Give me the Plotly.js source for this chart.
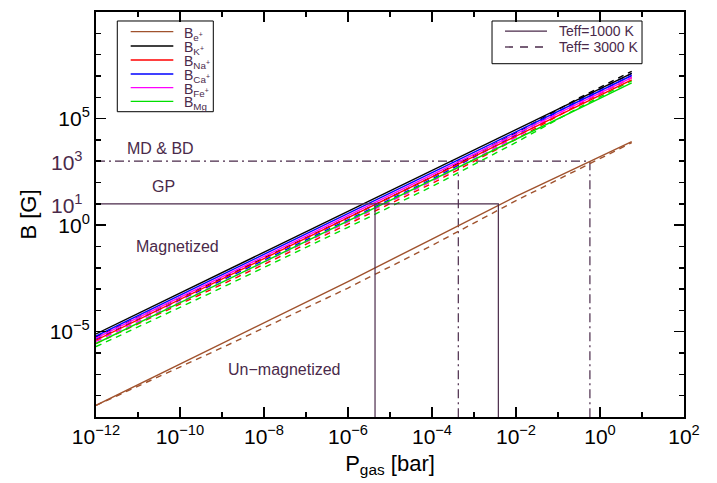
<!DOCTYPE html>
<html><head><meta charset="utf-8">
<script src="https://cdn.plot.ly/plotly-3.0.1.min.js"></script>
<style>body{margin:0;background:#fff}#chart{width:717px;height:483px}</style>
</head><body><div id="chart"></div>
<script>
// Gas pressure samples [bar]
const P = [1e-12, 1e-9, 1e-6, 1e-4, 1e-2, 0.316, 5.69];

// Teff = 1000 K (solid)
const B_e_1000  = [3.5e-9, 2.8e-6, 2.24e-3, 0.224, 22.4, 562, 8300];
const B_K_1000  = [7.9e-6, 5.9e-3, 4.47, 363, 3.02e4, 8.32e5, 1.32e7];
const B_Na_1000 = [4.0e-6, 2.95e-3, 2.24, 182, 1.51e4, 4.17e5, 6.6e6];
const B_Ca_1000 = [6.3e-6, 4.7e-3, 3.55, 288, 2.4e4, 6.6e5, 1.05e7];
const B_Fe_1000 = [5.0e-6, 3.7e-3, 2.82, 229, 1.9e4, 5.25e5, 8.3e6];
const B_Mg_1000 = [2.8e-6, 2.1e-3, 1.58, 129, 1.07e4, 2.95e5, 4.7e6];

// Teff = 3000 K (dashed)
const B_e_3000  = [3.5e-9, 1.78e-6, 1.12e-3, 0.112, 14.1, 447, 7400];
const B_K_3000  = [5.6e-6, 3.3e-3, 2.24, 182, 2.14e4, 9.3e5, 1.66e7];
const B_Na_3000 = [2.8e-6, 1.66e-3, 1.12, 91, 1.07e4, 4.7e5, 8.3e6];
const B_Ca_3000 = [4.5e-6, 2.6e-3, 1.78, 145, 1.7e4, 7.4e5, 1.32e7];
const B_Fe_3000 = [3.5e-6, 2.1e-3, 1.41, 115, 1.35e4, 5.9e5, 1.05e7];
const B_Mg_3000 = [2.0e-6, 1.17e-3, 0.79, 65, 7.6e3, 3.3e5, 5.9e6];

// Reference field levels and the pressures where they are reached
const GP_P = [1e-12, 3.8e-3, 3.8e-3, null, 4.4e-6, 4.4e-6];
const GP_B = [10, 10, 1e-9, null, 10, 1e-9];
const MD_P = [1e-12, 0.575, 0.575, null, 4.23e-4, 4.23e-4];
const MD_B = [1000, 1000, 1e-9, null, 1000, 1e-9];

const xTickVals = [1e-12, 1e-10, 1e-8, 1e-6, 1e-4, 1e-2, 1, 1e2];
const xTickText = ["10<sup>−12</sup>","10<sup>−10</sup>","10<sup>−8</sup>","10<sup>−6</sup>","10<sup>−4</sup>","10<sup>−2</sup>","10<sup>0</sup>","10<sup>2</sup>"];
const xMinor = [1e-11, 1e-9, 1e-7, 1e-5, 1e-3, 1e-1, 1e1];
const yTickVals = [1e-5, 1, 1e5, 1e10];
const yTickText = ["10<sup>−5</sup>","10<sup>0</sup>","10<sup>5</sup>","10<sup>10</sup>"];
const yMinor = [1e-9,1e-8,1e-7,1e-6,1e-4,1e-3,1e-2,1e-1,1e1,1e2,1e3,1e4,1e6,1e7,1e8,1e9];

const ionNames = ["B<sub>e<sup>+</sup></sub>","B<sub>K<sup>+</sup></sub>","B<sub>Na<sup>+</sup></sub>","B<sub>Ca<sup>+</sup></sub>","B<sub>Fe<sup>+</sup></sub>","B<sub>Mg</sub>"];
const ionColors = ["#A0522D","#000000","#FF0000","#0000FF","#FF00FF","#00E000"];
const solid = [B_e_1000, B_K_1000, B_Na_1000, B_Ca_1000, B_Fe_1000, B_Mg_1000];
const dashed = [B_e_3000, B_K_3000, B_Na_3000, B_Ca_3000, B_Fe_3000, B_Mg_3000];

const purple = "#4a2a4a";
const font = "Liberation Sans, Arial, Helvetica, sans-serif";

const traces = [];
traces.push({x: GP_P, y: GP_B, xaxis: "x2", yaxis: "y2", mode: "lines", line: {color: purple, width: 1.2}, showlegend: false, hoverinfo: "skip"});
traces.push({x: MD_P, y: MD_B, mode: "lines", line: {color: purple, width: 1.2, dash: "9px,4px,2px,4px"}, showlegend: false, hoverinfo: "skip"});
const order = [5, 2, 4, 3, 1, 0];
order.forEach(i => {
  traces.push({x: P, y: dashed[i], mode: "lines", line: {color: ionColors[i], width: 1.4, dash: "6px,5px"}, showlegend: false, name: ionNames[i]});
});
order.forEach(i => {
  traces.push({x: P, y: solid[i], mode: "lines", line: {color: ionColors[i], width: 1.4}, showlegend: false, name: ionNames[i]});
});

const shapes = [];
const annotations = [];
shapes.push({type: "rect", xref: "paper", yref: "paper", x0: 0.0362, x1: 0.1995, y0: 0.7538, y1: 0.9778, line: {color: "#000", width: 1}, fillcolor: "rgba(255,255,255,0)"});
const legY = [0.9514, 0.916, 0.8815, 0.8469, 0.8131, 0.7795];
ionNames.forEach((n, i) => {
  shapes.push({type: "line", xref: "paper", yref: "paper", x0: 0.059, x1: 0.1315, y0: legY[i], y1: legY[i], line: {color: ionColors[i], width: 1.3}});
  annotations.push({xref: "paper", yref: "paper", x: 0.1457, y: legY[i], xanchor: "left", yanchor: "middle", yshift: -2, text: n, showarrow: false, font: {family: font, size: 14, color: purple}});
});
shapes.push({type: "rect", xref: "paper", yref: "paper", x0: 0.6735, x1: 0.9286, y0: 0.8723, y1: 0.9778, line: {color: "#000", width: 1}, fillcolor: "rgba(255,255,255,0)"});
shapes.push({type: "line", xref: "paper", yref: "paper", x0: 0.6956, x1: 0.767, y0: 0.953, y1: 0.953, line: {color: purple, width: 1.3}});
shapes.push({type: "line", xref: "paper", yref: "paper", x0: 0.6956, x1: 0.767, y0: 0.9136, y1: 0.9136, line: {color: purple, width: 1.3, dash: "8px,7px"}});
annotations.push({xref: "paper", yref: "paper", x: 0.784, y: 0.953, xanchor: "left", yanchor: "middle", text: "Teff=1000 K", showarrow: false, font: {family: font, size: 14, color: purple}});
annotations.push({xref: "paper", yref: "paper", x: 0.784, y: 0.9136, xanchor: "left", yanchor: "middle", text: "Teff= 3000 K", showarrow: false, font: {family: font, size: 14, color: purple}});

const lab = (t, x, y) => ({xref: "paper", yref: "paper", x: x, y: y, text: t, showarrow: false, xanchor: "center", yanchor: "middle", font: {family: font, size: 16, color: purple}});
annotations.push(lab("MD &amp; BD", 0.1105, 0.664));
annotations.push(lab("GP", 0.1156, 0.568));
annotations.push(lab("Magnetized", 0.139, 0.422));
annotations.push(lab("Un−magnetized", 0.32, 0.1185));
annotations.push({xref: "paper", yref: "y", x: -0.0187, y: 3, xanchor: "right", yanchor: "middle", text: "10<sup>3</sup>", showarrow: false, font: {family: font, size: 21, color: purple}});
annotations.push({xref: "paper", yref: "y", x: -0.0187, y: 1, xanchor: "right", yanchor: "middle", text: "10<sup>1</sup>", showarrow: false, font: {family: font, size: 21, color: purple}});

const axCommon = {
  type: "log", showgrid: false, zeroline: false, showline: true, linecolor: "#000", linewidth: 2,
  mirror: "allticks", ticks: "inside", tickwidth: 1.5, tickcolor: "#000",
  tickmode: "array", tickfont: {family: font, size: 21, color: "#000"}
};

const layout = {
  width: 717, height: 483,
  margin: {l: 96, r: 33, t: 12, b: 66},
  paper_bgcolor: "#fff", plot_bgcolor: "#fff",
  showlegend: false,
  xaxis: Object.assign({}, axCommon, {
    range: [-12, 2], tickvals: xTickVals, ticktext: xTickText, ticklen: 10,
    title: {text: "P<sub>gas</sub> [bar]", font: {family: font, size: 22, color: "#000"}, standoff: 8}
  }),
  yaxis: Object.assign({}, axCommon, {
    range: [-9, 10], tickvals: yTickVals, ticktext: yTickText, ticklen: 10,
    title: {text: "B [G]", font: {family: font, size: 22, color: "#000"}, standoff: 7}
  }),
  xaxis2: Object.assign({}, axCommon, {
    overlaying: "x", side: "bottom", anchor: "y2", range: [-12, 2], tickvals: xMinor, ticktext: xMinor.map(() => ""),
    ticklen: 5, showticklabels: false
  }),
  yaxis2: Object.assign({}, axCommon, {
    overlaying: "y", side: "left", anchor: "x2", range: [-9, 10], tickvals: yMinor, ticktext: yMinor.map(() => ""),
    ticklen: 5, showticklabels: false
  }),
  shapes: shapes,
  annotations: annotations
};

Plotly.newPlot("chart", traces, layout, {staticPlot: true, displayModeBar: false});
</script></body></html>
